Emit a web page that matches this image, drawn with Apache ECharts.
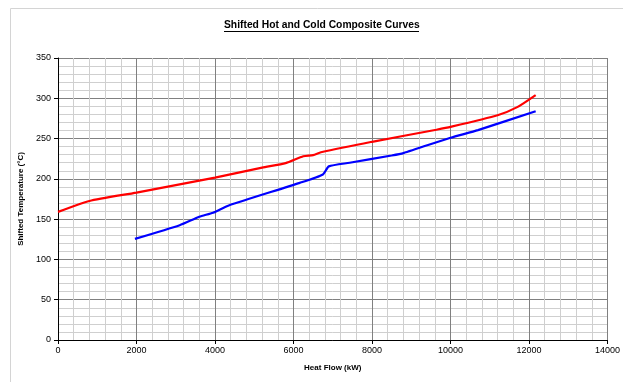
<!DOCTYPE html>
<html><head><meta charset="utf-8">
<script src="https://cdn.jsdelivr.net/npm/echarts@6/dist/echarts.min.js"></script>
<style>html,body{margin:0;padding:0;background:#fff}#c{width:623px;height:382px}</style>
</head><body><div id="c"></div>
<script>
const titleText = "Shifted Hot and Cold Composite Curves";
const xName = "Heat Flow (kW)";
const yName = "Shifted Temperature (°C)";
const hotCurve = [[0,159],[800,172.5],[2000,183],[4000,201.5],[5200,214],[5800,219.5],[6250,228],[6500,229.5],[6700,233],[8000,246],[9640,261],[10000,264.5],[11200,279],[11700,289],[12170,304]];
const coldCurve = [[1960,125.5],[3100,142.5],[3600,153],[3950,158],[4350,167],[6160,195],[6750,205.5],[6900,215.5],[7430,220],[8500,229],[8800,232],[10000,251],[10700,260.5],[12170,284]];

const chart = echarts.init(document.getElementById('c'));
const font = 'Liberation Sans, Arial, sans-serif';
chart.setOption({
  animation:false,
  title:{text:titleText,left:224,top:20,padding:0,textStyle:{fontFamily:font,fontSize:10.3,fontWeight:'bold',color:'#000'}},
  graphic:[
    {type:'rect',shape:{x:10.5,y:8.5,width:640,height:400},style:{fill:'none',stroke:'#d4d4d4',lineWidth:1},silent:true,z:-10},
    {type:'line',shape:{x1:224,y1:31.5,x2:419,y2:31.5},style:{stroke:'#000',lineWidth:1},silent:true}
  ],
  grid:{left:58,right:15,top:58,bottom:42},
  xAxis:{type:'value',min:0,max:14000,interval:2000,name:xName,nameLocation:'middle',nameGap:24,
    nameTextStyle:{fontFamily:font,fontSize:8,fontWeight:'bold',color:'#000'},
    axisLine:{show:true,lineStyle:{color:'#000',width:1}},
    axisTick:{show:true,length:4,lineStyle:{color:'#000'}},
    axisLabel:{fontFamily:font,fontSize:9,color:'#000',margin:6,formatter:function(v){return String(v);}},
    splitLine:{show:true,lineStyle:{color:'#808080',width:1}},
    minorTick:{show:false,splitNumber:5},
    minorSplitLine:{show:true,lineStyle:{color:'#cfcfcf',width:1}}
  },
  yAxis:{type:'value',min:0,max:350,interval:50,name:yName,nameLocation:'middle',nameGap:25,nameRotate:90,
    nameTextStyle:{fontFamily:font,fontSize:8,fontWeight:'bold',color:'#000'},
    axisLine:{show:true,lineStyle:{color:'#000',width:1}},
    axisTick:{show:true,length:4,lineStyle:{color:'#000'}},
    axisLabel:{fontFamily:font,fontSize:9,color:'#000',margin:7},
    splitLine:{show:true,lineStyle:{color:'#808080',width:1}},
    minorTick:{show:false,splitNumber:5},
    minorSplitLine:{show:true,lineStyle:{color:'#cfcfcf',width:1}}
  },
  series:[
    {type:'line',data:hotCurve,smooth:0.2,showSymbol:false,lineStyle:{color:'#ff0000',width:2.2},z:3},
    {type:'line',data:coldCurve,smooth:0.2,showSymbol:false,lineStyle:{color:'#0000ff',width:2.2},z:3}
  ]
});
</script></body></html>
